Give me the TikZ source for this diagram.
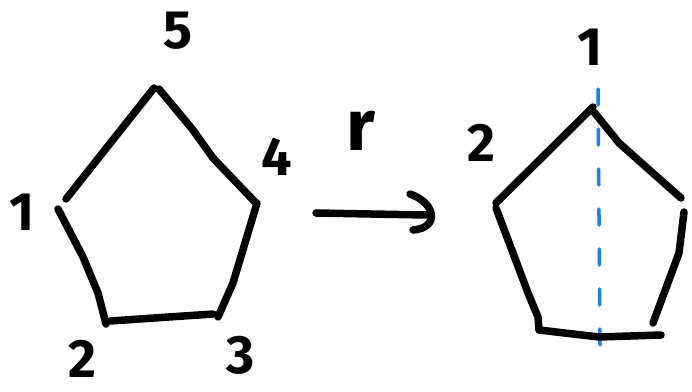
\documentclass[tikz,border=0pt]{standalone}
\usepackage{fontspec}
\setmainfont{Fira Sans}
\begin{document}
\begin{tikzpicture}[x=1pt,y=-1pt,
  stroke/.style={line width=7.5pt,line cap=round,line join=round},
  digit/.style={inner sep=0pt,font=\fontsize{54}{54}\selectfont\bfseries},
  mirror/.style={line width=3.5pt,line cap=round,draw={rgb,255:red,22;green,128;blue,240},dash pattern=on 16pt off 24pt}]
\useasboundingbox (0,0) rectangle (692,391);
% left pentagon
\draw[stroke] (66,199) -- (154,88);
\draw[stroke] (159,89) -- (193,130) -- (213,158) -- (255,202);
\draw[stroke] (257,203) -- (233,283) -- (218,317);
\draw[stroke] (213,314) -- (110,321);
\draw[stroke] (106,324) -- (98,293) -- (83,257) -- (58,209);
\node[digit] (l5) at (178,31) {5};
\node[digit] (l4) at (277,157) {4};
\node[digit] (l1) at (22,212) {1};
\node[digit] (l2) at (82,359) {2};
\node[digit] (l3) at (241,355) {3};
% arrow
\coordinate (as) at (316,213);
\coordinate (ae) at (426,215);
\draw[stroke] (as) -- (ae);
\draw[stroke] (410,194) .. controls (436,203) and (440,228) .. (413,230);
\node[inner sep=0pt,font=\fontsize{72}{72}\selectfont\bfseries] (r) at (361,131) {r};
% right pentagon
\draw[mirror] (598,89) -- (600,345);
\draw[stroke] (593,107) -- (496,203);
\draw[stroke] (594,112) -- (619,143) -- (681,198);
\draw[stroke] (684,212) -- (679,253) -- (653,323);
\draw[stroke] (496,208) -- (513,253) -- (528,293) -- (538,317) -- (539,330) -- (599,337) -- (661,335);
\node[digit] (r1) at (590,47) {1};
\node[digit] (r2) at (481,143) {2};
\end{tikzpicture}
\end{document}
